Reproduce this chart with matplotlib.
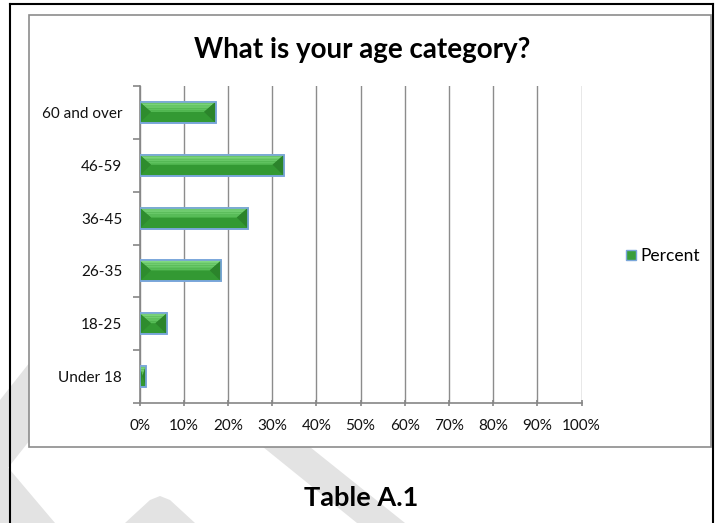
import matplotlib.pyplot as plt
from matplotlib.patches import Polygon, Rectangle, Patch
import numpy as np

plt.rcParams['font.family'] = ['Lato', 'DejaVu Sans']

categories = ['Under 18', '18-25', '26-35', '36-45', '46-59', '60 and over']
percent = [1.4, 6.2, 18.5, 24.6, 32.7, 17.2]
xticks = list(range(0, 101, 10))
xlabels = [f'{t}%' for t in xticks]

W, H = 718, 523
fig = plt.figure(figsize=(W / 100, H / 100), dpi=100)


def px(x, y):
    # pixel position (origin top-left) -> figure fraction
    return x / W, 1 - y / H


# light grey watermark stripes behind everything
wm = [
    [(0, 400), (30, 362), (30, 440), (0, 478)],
    [(0, 458), (0, 523), (55, 523)],
    [(125, 523), (150, 500), (160, 496), (170, 500), (195, 523)],
    [(263, 447), (310, 447), (405, 523), (357, 523)],
]
for poly in wm:
    fig.patches.append(Polygon([px(*p) for p in poly], closed=True,
                               transform=fig.transFigure, facecolor='#e3e3e3',
                               edgecolor='none', zorder=0))

# page border and chart frame
fig.add_artist(plt.Line2D([px(9.5, 0)[0]] * 2, [px(0, 4)[1], 0], color='black', lw=1.5))
fig.add_artist(plt.Line2D([px(712.5, 0)[0]] * 2, [px(0, 4)[1], 0], color='black', lw=1.5))
fig.add_artist(plt.Line2D([px(9.5, 0)[0], px(712.5, 0)[0]], [px(0, 4)[1]] * 2, color='black', lw=1.5))
x0, y0 = px(29.5, 446.7)
x1, y1 = px(710.5, 14.5)
fig.patches.append(Rectangle((x0, y0), x1 - x0, y1 - y0, transform=fig.transFigure,
                             facecolor='white', edgecolor='#8c8c8c', lw=1.2, zorder=1))

ax = fig.add_axes([139.5 / W, 1 - 403 / H, 442 / W, 317 / H])
ax.set_zorder(2)
ax.patch.set_alpha(0)

ypos = np.arange(len(categories))
bh = 0.4
h = bh / 2
by = 0.19

ax.barh(ypos, percent, height=bh, color='#339933', edgecolor='#7aa6da', lw=1.2, zorder=3)

# bevel facets on each bar
light_top = np.array([0x86, 0xdc, 0x86]) / 255
light_bot = np.array([0x52, 0xb9, 0x52]) / 255
for y, v in zip(ypos, percent):
    bx = min(2.6, v / 2)
    top = y + h
    # top facet drawn as a few strips to fake a gradient
    n = 6
    for i in range(n):
        f0, f1 = i / n, (i + 1) / n
        ya, yb = top - by * f0, top - by * f1
        xa, xb = bx * f0, bx * f1
        c = light_top + (light_bot - light_top) * (f0 + f1) / 2
        ax.add_patch(Polygon([(xa, ya), (v - xa, ya), (v - xb, yb), (xb, yb)],
                             closed=True, facecolor=c, edgecolor='none', zorder=4))
    ax.add_patch(Polygon([(0, top), (bx, top - by), (0, y - h)], closed=True,
                         facecolor='#2e8c2e', edgecolor='none', zorder=4))
    ax.add_patch(Polygon([(v, top), (v - bx, top - by), (v, y - h)], closed=True,
                         facecolor='#2b842b', edgecolor='none', zorder=4))
    ax.add_patch(Rectangle((0, y - h), v, bh, facecolor='none', edgecolor='#7aa6da',
                           lw=1.2, zorder=5))

ax.set_xlim(0, 100)
ax.set_ylim(-0.5, len(categories) - 0.5)
ax.set_xticks(xticks)
ax.set_xticklabels(xlabels)
ax.set_yticks(ypos)
ax.set_yticklabels(categories)
ax.set_yticks(np.arange(-0.5, len(categories)), minor=True)

ax.grid(axis='x', color='#8c8c8c', lw=1, zorder=1)
for s in ['top', 'right']:
    ax.spines[s].set_visible(False)
for s in ['left', 'bottom']:
    ax.spines[s].set_color('#868686')
    ax.spines[s].set_linewidth(1.2)

ax.tick_params(axis='y', which='major', length=0, pad=12.5, labelsize=11, labelcolor='#111111')
ax.tick_params(axis='y', which='minor', length=5, color='#868686', width=1.2)
ax.tick_params(axis='x', length=5, color='#868686', width=1.2, direction='inout',
               pad=9, labelsize=11, labelcolor='#111111')

fig.text(*px(362, 50), 'What is your age category?', ha='center', va='center',
         fontsize=20, fontweight='bold', zorder=3)
fig.text(*px(361, 498), 'Table A.1', ha='center', va='center',
         fontsize=19.5, fontweight='bold', zorder=3)

fig.legend(handles=[Patch(facecolor='#3a9e3a', edgecolor='#7aa6da', lw=1)], labels=['Percent'],
           loc='center left', bbox_to_anchor=px(626, 256), frameon=False,
           borderpad=0, borderaxespad=0,
           handlelength=0.55, handleheight=0.55, handletextpad=0.25, fontsize=12.5)

fig.savefig('out.png', dpi=100)
